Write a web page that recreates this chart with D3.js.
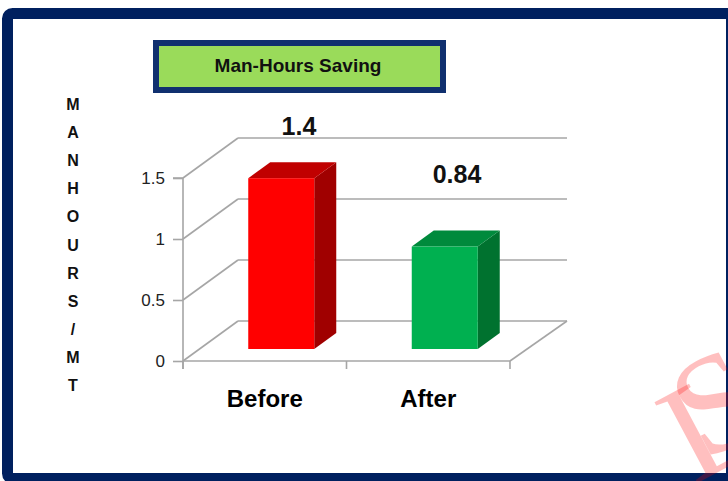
<!DOCTYPE html>
<html><head><meta charset="utf-8">
<script src="https://cdn.jsdelivr.net/npm/d3@7"></script>
<style>
html,body{margin:0;padding:0;background:#fff;overflow:hidden}
svg{display:block}
</style></head>
<body>
<script>
const categories = ["Before", "After"];
const values = [1.4, 0.84];
const valueLabels = ["1.4", "0.84"];
const yTicks = [0, 0.5, 1, 1.5];
const yTickLabels = ["0", "0.5", "1", "1.5"];
const axisLetters = ["M","A","N","H","O","U","R","S","/","M","T"];
const title = "Man-Hours Saving";
const watermark = ["L", "S"];
const frontColors = ["#FF0000", "#00B050"];
const sideColors = ["#A00000", "#00722F"];
const topColors = ["#C00000", "#008A3C"];

const W = 728, H = 481;
const svg = d3.select("body").append("svg").attr("width", W).attr("height", H);
const SANS = "'Liberation Sans',Arial,sans-serif";

// frame
svg.append("rect").attr("x", 7.5).attr("y", 13.5).attr("width", 724).attr("height", 465)
  .attr("rx", 5).attr("fill", "#fff").attr("stroke", "#00205F").attr("stroke-width", 11);

// plot geometry
const x0 = 183, x1 = 510, yBase = 361;
const depthX = 55, depthY = -40;
const y = d3.scaleLinear().domain([0, 1.5]).range([yBase, 178]);
const x = d3.scaleBand().domain(categories).range([x0, x1]);
const gridCol = "#A6A6A6";

const g = svg.append("g");
yTicks.forEach(t => {
  g.append("line").attr("x1", x0 + depthX).attr("x2", x1 + depthX + 2)
    .attr("y1", y(t) + depthY).attr("y2", y(t) + depthY)
    .attr("stroke", gridCol).attr("stroke-width", 1.6);
  g.append("line").attr("x1", x0).attr("y1", y(t))
    .attr("x2", x0 + depthX).attr("y2", y(t) + depthY)
    .attr("stroke", gridCol).attr("stroke-width", 1.6);
});
g.append("line").attr("x1", x0).attr("y1", yBase).attr("x2", x1).attr("y2", yBase)
  .attr("stroke", gridCol).attr("stroke-width", 1.6);
g.append("line").attr("x1", x1).attr("y1", yBase).attr("x2", x1 + depthX + 2).attr("y2", yBase + depthY)
  .attr("stroke", gridCol).attr("stroke-width", 1.6);

// y axis
const yAxis = d3.axisLeft(y).tickValues(yTicks).tickSize(10).tickPadding(8)
  .tickFormat((d, i) => yTickLabels[i]);
const ya = svg.append("g").attr("transform", `translate(${x0},0)`).call(yAxis);
ya.select(".domain").attr("stroke", gridCol).attr("stroke-width", 1.6).attr("d", `M-10,${y(1.5)}H0V${yBase + 8}`);
ya.selectAll(".tick line").attr("stroke", gridCol).attr("stroke-width", 1.6);
ya.selectAll(".tick text").attr("font-family", SANS).attr("font-size", 17).attr("fill", "#222");

// category ticks + labels
const bounds = [x0].concat(categories.map(c => x(c) + x.bandwidth()));
bounds.forEach(b => {
  svg.append("line").attr("x1", b).attr("x2", b).attr("y1", yBase).attr("y2", yBase + 8)
    .attr("stroke", gridCol).attr("stroke-width", 1.6);
});
const xAxis = d3.axisBottom(x).tickSize(0).tickPadding(0);
const xa = svg.append("g").attr("transform", `translate(0,${yBase})`).call(xAxis);
xa.select(".domain").remove();
xa.selectAll(".tick text").attr("font-family", SANS).attr("font-weight", "bold")
  .attr("font-size", 24).attr("fill", "#000").attr("dy", 46);

// bars
const f = 0.3;
const barW = 66, bdx = 22, bdy = -16;
categories.forEach((c, i) => {
  const cx = x(c) + x.bandwidth() / 2 + depthX * f;
  const bx = cx - barW / 2;
  const yb = yBase + depthY * f;
  const yt = y(values[i]) + depthY * f;
  svg.append("path").attr("d", `M${bx + barW},${yt}L${bx + barW + bdx},${yt + bdy}L${bx + barW + bdx},${yb + bdy}L${bx + barW},${yb}Z`)
    .attr("fill", sideColors[i]);
  svg.append("path").attr("d", `M${bx},${yt}L${bx + bdx},${yt + bdy}L${bx + barW + bdx},${yt + bdy}L${bx + barW},${yt}Z`)
    .attr("fill", topColors[i]);
  svg.append("rect").attr("x", bx).attr("y", yt).attr("width", barW).attr("height", yb - yt)
    .attr("fill", frontColors[i]);
});

// value labels
const labelPos = [[299, 135], [457, 183]];
valueLabels.forEach((t, i) => {
  svg.append("text").attr("x", labelPos[i][0]).attr("y", labelPos[i][1])
    .attr("text-anchor", "middle").attr("font-family", SANS).attr("font-weight", "bold")
    .attr("font-size", 25).attr("fill", "#111").text(t);
});

// vertical axis title
axisLetters.forEach((l, i) => {
  svg.append("text").attr("x", 73).attr("y", 110 + i * 28.1).attr("text-anchor", "middle")
    .attr("font-family", SANS).attr("font-weight", "bold").attr("font-size", 16)
    .attr("fill", "#111").text(l);
});

// title box
svg.append("rect").attr("x", 156).attr("y", 43).attr("width", 287).attr("height", 47)
  .attr("fill", "#9ADB5A").attr("stroke", "#10306F").attr("stroke-width", 6);
svg.append("text").attr("x", 298).attr("y", 72).attr("text-anchor", "middle")
  .attr("font-family", SANS).attr("font-weight", "bold").attr("font-size", 19)
  .attr("fill", "#111").text(title);

// watermark
const wmPos = [[694, 485], [704, 462]];
watermark.forEach((t, i) => {
  svg.append("text").attr("transform", `translate(${wmPos[i][0]},${wmPos[i][1]}) rotate(-28)`)
    .attr("font-family", "'Liberation Serif','DejaVu Serif',serif")
    .attr("font-size", 140).attr("fill", "rgba(255,0,0,0.25)").text(t);
});
</script>
</body></html>
